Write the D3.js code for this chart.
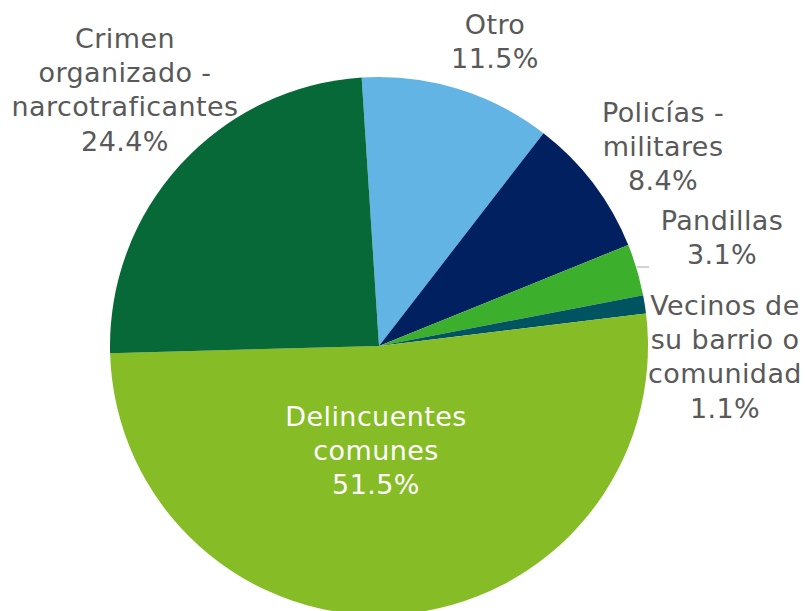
<!DOCTYPE html>
<html><head><meta charset="utf-8">
<script src="https://cdn.jsdelivr.net/npm/d3@7"></script>
<style>body{margin:0;background:#fff}</style>
</head><body>
<svg id="c" width="806" height="611"></svg>
<script>
const categories = ["Otro", "Policías - militares", "Pandillas", "Vecinos de su barrio o comunidad", "Delincuentes comunes", "Crimen organizado - narcotraficantes"];
const values = [11.5, 8.4, 3.1, 1.1, 51.5, 24.4];
const colors = ["#62B4E4", "#002060", "#3CAF2C", "#005360", "#86BC25", "#076937"];
const labelLines = [["Otro"], ["Policías -", "militares"], ["Pandillas"], ["Vecinos de", "su barrio o", "comunidad"], ["Delincuentes", "comunes"], ["Crimen", "organizado -", "narcotraficantes"]];
const labelPos = [[495, 24], [663, 112], [722, 220], [725, 305], [376, 416], [125, 38]];

const svg = d3.select("#c");
const cx = 379, cy = 346, r = 269;
const start = -3.7 * Math.PI / 180;
const pie = d3.pie().sort(null).value(d => d).startAngle(start).endAngle(start + 2 * Math.PI);
const arc = d3.arc().innerRadius(0).outerRadius(r);
const g = svg.append("g").attr("transform", `translate(${cx},${cy})`);
g.selectAll("path").data(pie(values)).join("path")
  .attr("d", arc).attr("fill", (d, i) => colors[i]);

// leader line for Pandillas
svg.append("line").attr("x1", 637).attr("x2", 649).attr("y1", 267).attr("y2", 267)
  .attr("stroke", "#A6A6A6").attr("stroke-width", 1);

const lh = 34.3;
values.forEach((v, i) => {
  const lines = labelLines[i].concat([v.toFixed(1) + "%"]);
  const t = svg.append("text")
    .attr("text-anchor", "middle")
    .attr("font-family", "'DejaVu Sans', Verdana, sans-serif")
    .attr("font-size", 27)
    .attr("letter-spacing", 0.4)
    .attr("fill", i === 4 ? "#FFFFFF" : "#595959");
  lines.forEach((ln, k) => {
    t.append("tspan").attr("x", labelPos[i][0]).attr("y", labelPos[i][1] + k * lh)
      .attr("dy", "0.36em").text(ln);
  });
});
</script>
</body></html>
